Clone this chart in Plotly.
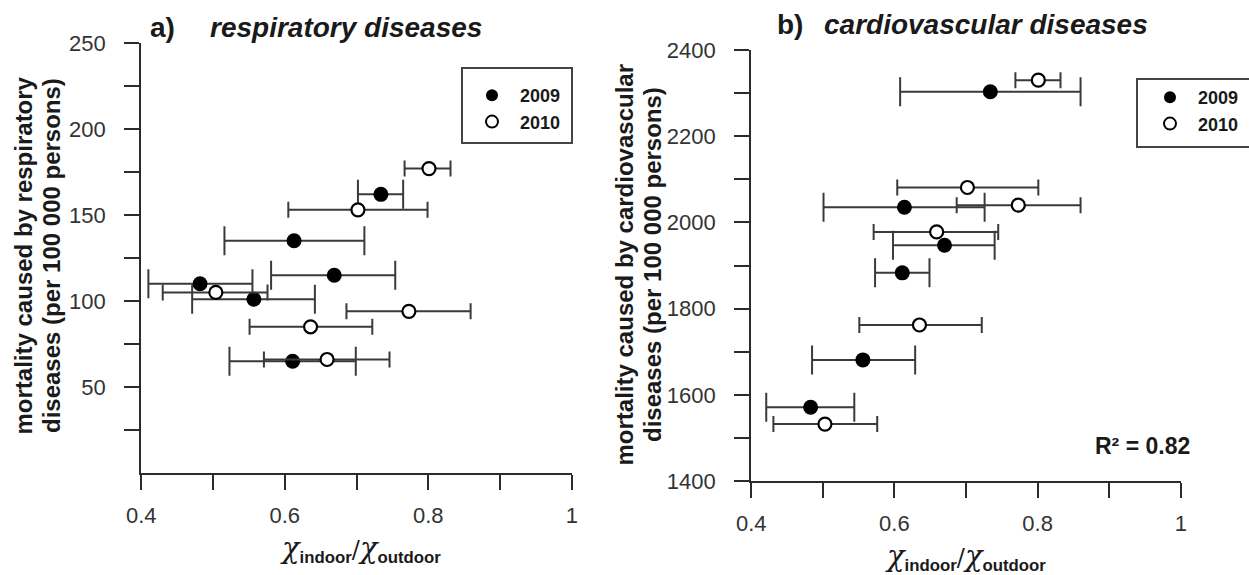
import plotly.graph_objects as go

W, H = 1249, 575

# ---- respiratory diseases: indoor/outdoor ratio (centre, lower, upper) and mortality
resp_x_2009 = [0.734, 0.613, 0.669, 0.482, 0.557, 0.611]
resp_lo_2009 = [0.702, 0.516, 0.581, 0.410, 0.471, 0.523]
resp_hi_2009 = [0.765, 0.711, 0.754, 0.555, 0.642, 0.699]
resp_y_2009 = [162, 135, 115, 110, 101, 65]

resp_x_2010 = [0.801, 0.702, 0.504, 0.773, 0.636, 0.659]
resp_lo_2010 = [0.767, 0.605, 0.430, 0.686, 0.551, 0.571]
resp_hi_2010 = [0.831, 0.799, 0.576, 0.859, 0.722, 0.746]
resp_y_2010 = [177, 153, 105, 94, 85, 66]

# ---- cardiovascular diseases
card_x_2009 = [0.734, 0.614, 0.670, 0.611, 0.556, 0.483]
card_lo_2009 = [0.608, 0.501, 0.598, 0.573, 0.485, 0.421]
card_hi_2009 = [0.860, 0.726, 0.740, 0.649, 0.629, 0.544]
card_y_2009 = [2303, 2035, 1947, 1883, 1681, 1571]

card_x_2010 = [0.801, 0.702, 0.773, 0.659, 0.635, 0.503]
card_lo_2010 = [0.769, 0.604, 0.687, 0.571, 0.551, 0.431]
card_hi_2010 = [0.832, 0.801, 0.860, 0.745, 0.722, 0.576]
card_y_2010 = [2330, 2081, 2040, 1978, 1762, 1532]

# labelled ticks and unlabelled in-between ticks
x_major = [0.4, 0.6, 0.8, 1.0]
x_major_text = ["0.4", "0.6", "0.8", "1"]
x_minor = [0.5, 0.7, 0.9]
resp_major = [50, 100, 150, 200, 250]
resp_minor = [25, 75, 125, 175, 225]
card_major = [1400, 1600, 1800, 2000, 2200, 2400]
card_minor = [1500, 1700, 1900, 2100, 2300]

years = ["2009", "2010"]
r_squared = 0.82

SANS = "Liberation Sans, Arial, sans-serif"
INK = "#1a1a1a"
AXIS = "#2b2b2b"
BAR = "#3a3a3a"


def px_x(p):
    return p / W


def px_y(p):
    return 1 - p / H


fig = go.Figure()


def add_series(x, lo, hi, y, year, filled, xa, ya, legend):
    fig.add_trace(go.Scatter(
        x=x, y=y, mode="markers", name=year,
        xaxis=xa, yaxis=ya, legend=legend, cliponaxis=False,
        error_x=dict(
            type="data", symmetric=False,
            array=[h - c for h, c in zip(hi, x)],
            arrayminus=[c - l for c, l in zip(x, lo)],
            color=BAR, thickness=2, width=14.5 if filled else 8,
        ),
        marker=dict(
            symbol="circle",
            size=15 if filled else 13,
            color="black" if filled else "white",
            line=dict(color="black", width=0 if filled else 2.2),
        ),
    ))


add_series(resp_x_2009, resp_lo_2009, resp_hi_2009, resp_y_2009, years[0], True, "x", "y", "legend")
add_series(resp_x_2010, resp_lo_2010, resp_hi_2010, resp_y_2010, years[1], False, "x", "y", "legend")
add_series(card_x_2009, card_lo_2009, card_hi_2009, card_y_2009, years[0], True, "x2", "y2", "legend2")
add_series(card_x_2010, card_lo_2010, card_hi_2010, card_y_2010, years[1], False, "x2", "y2", "legend2")


def axis(domain, rng, major, major_text, minor, anchor, standoff):
    return dict(
        domain=domain, range=rng, anchor=anchor,
        tickmode="array", tickvals=major, ticktext=major_text,
        minor=dict(tickmode="array", tickvals=minor, ticks="outside",
                   ticklen=15, tickwidth=2, tickcolor=AXIS, showgrid=False),
        showline=True, linecolor=AXIS, linewidth=2,
        ticks="outside", ticklen=15, tickwidth=2, tickcolor=AXIS,
        showgrid=False, zeroline=False, automargin=False,
        tickfont=dict(family=SANS, size=22, color="#333333"),
        ticklabelstandoff=standoff, fixedrange=True,
    )


legend_font = dict(family=SANS, size=18, color=INK, weight="bold")

fig.update_layout(
    width=W, height=H,
    margin=dict(l=0, r=0, t=0, b=0),
    paper_bgcolor="white", plot_bgcolor="white",
    xaxis=axis([px_x(141.2), px_x(571.8)], [0.4, 1.0], x_major, x_major_text, x_minor, "y", 7),
    yaxis=axis([px_y(473), px_y(43)], [0, 250], resp_major, [str(v) for v in resp_major], resp_minor, "x", 14),
    xaxis2=axis([px_x(751.2), px_x(1180.8)], [0.4, 1.0], x_major, x_major_text, x_minor, "y2", 7),
    yaxis2=axis([px_y(481), px_y(50)], [1400, 2400], card_major, [str(v) for v in card_major], card_minor, "x2", 14),
    showlegend=True,
    legend=dict(x=px_x(464), y=px_y(77), xanchor="left", yanchor="top",
                bgcolor="rgba(0,0,0,0)", borderwidth=0, itemsizing="constant",
                itemwidth=46, font=legend_font),
    legend2=dict(x=px_x(1142), y=px_y(79), xanchor="left", yanchor="top",
                 bgcolor="rgba(0,0,0,0)", borderwidth=0, itemsizing="constant",
                 itemwidth=46, font=legend_font),
)

# legend frames
for x0, y0, x1, y1 in [(462, 68, 572, 143), (1137, 79, 1252, 147)]:
    fig.add_shape(type="rect", xref="paper", yref="paper",
                  x0=px_x(x0), x1=px_x(x1), y0=px_y(y1), y1=px_y(y0),
                  line=dict(color="#444444", width=2), fillcolor="rgba(0,0,0,0)")


def note(text, x, y, size, xanchor="left", angle=0, family=SANS, weight="bold", italic=False):
    fig.add_annotation(
        text=text, x=px_x(x), y=px_y(y), xref="paper", yref="paper",
        xanchor=xanchor, yanchor="middle", showarrow=False, textangle=angle,
        font=dict(family=family, size=size, color=INK, weight=weight,
                  style="italic" if italic else "normal"),
    )


# panel titles
note("a)", 148, 27, 28)
note("respiratory diseases", 208, 27, 28, italic=True)
note("b)", 775, 24, 28)
note("cardiovascular diseases", 822, 24, 28, italic=True)

# y-axis titles (two lines each)
note("mortality caused by respiratory", 23.5, 256, 24, xanchor="center", angle=-90)
note("diseases (per 100 000 persons)", 52, 256, 24, xanchor="center", angle=-90)
note("mortality caused by cardiovascular", 623.5, 265, 24, xanchor="center", angle=-90)
note("diseases (per 100 000 persons)", 652, 265, 24, xanchor="center", angle=-90)

# x-axis titles: chi_indoor / chi_outdoor
chi = '<span style="font-family:DejaVu Serif;font-style:italic;font-size:29px">χ</span>'
sub = '<sub><span style="font-family:Liberation Sans;font-weight:bold">{}</span></sub>'
xt = chi + sub.format("indoor") + "/" + chi + sub.format("outdoor")
note(xt, 360, 549, 24, xanchor="center", family="DejaVu Serif, serif", weight="normal")
note(xt, 965, 557, 24, xanchor="center", family="DejaVu Serif, serif", weight="normal")

# goodness of fit
note(f"R² = {r_squared:.2f}", 1192, 446, 23, xanchor="right")

fig.write_html("out.html")
